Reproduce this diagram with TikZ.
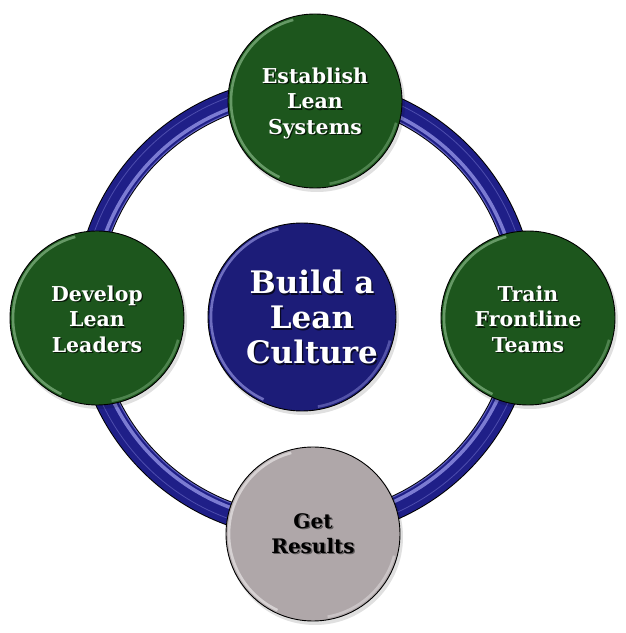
\documentclass[tikz,border=0pt]{standalone}
\usepackage{fontspec}
\setmainfont{DejaVu Serif}
\usetikzlibrary{calc}
\definecolor{btngreen}{HTML}{1D561D}
\definecolor{rimgreen}{HTML}{7FB07F}
\definecolor{btnnavy}{HTML}{1C1C78}
\definecolor{rimnavy}{HTML}{8A8AD8}
\definecolor{btngray}{HTML}{AFA7A9}
\definecolor{rimgray}{HTML}{E4E0E1}
\definecolor{ringblue}{HTML}{1F1F88}
\definecolor{ringlight}{HTML}{7B7BD2}
\newcommand\shtxt[2]{\makebox[0pt][l]{\raisebox{-1.5pt}{\hspace{1.3pt}\textcolor{#1}{#2}}}#2}
\begin{document}
\begin{tikzpicture}[x=1pt,y=1pt,
  btn/.style={circle, draw=black, line width=0.9pt, inner sep=0pt, minimum size=174pt},
  gbtn/.style={btn, fill=btngreen},
  glbl/.style={align=center, font=\bfseries\fontsize{20.5}{25.5}\selectfont, text=white},
  clbl/.style={align=center, font=\bfseries\fontsize{31}{35}\selectfont, text=white},
  rlbl/.style={align=center, font=\bfseries\fontsize{20}{25}\selectfont, text=black},
  rim/.style={line width=2.6pt, opacity=0.75},
  dropshadow/.style={black, opacity=0.12},
]
\useasboundingbox (0,0) rectangle (626,633);
% ring
\coordinate (rc) at (305,325);
\draw[black, line width=24pt] (rc) circle (219);
\draw[ringblue, line width=22pt] (rc) circle (219);
\draw[ringlight, line width=3.5pt] (rc) circle (213);
\draw[ringlight, line width=1pt, opacity=0.7] (rc) circle (208.5);
\draw[ringlight, line width=0.8pt, opacity=0.5] (rc) circle (224);

% buttons
\coordinate (estc) at (315,532);
\coordinate (devc) at (97,315);
\coordinate (trnc) at (528,315);
\coordinate (resc) at (313,99);
\coordinate (culc) at (302,316);
\foreach \c/\r in {estc/88, devc/88, trnc/88, resc/88, culc/95}
  \fill[dropshadow] ($(\c)+(2,-3)$) circle (\r);

\node[gbtn] (est) at (estc) {};
\node[gbtn] (dev) at (devc) {};
\node[gbtn] (trn) at (trnc) {};
\node[btn, fill=btngray] (res) at (resc) {};
\node[btn, fill=btnnavy, minimum size=188pt] (cul) at (culc) {};

% bevel highlights
\foreach \n/\col/\r in {est/rimgreen/84, dev/rimgreen/84, trn/rimgreen/84, res/rimgray/84, cul/rimnavy/91}{
  \draw[rim, \col] (\n.center) ++(105:\r) arc[start angle=105, end angle=245, radius=\r];
  \draw[rim, \col, opacity=0.5] (\n.center) ++(280:\r) arc[start angle=280, end angle=345, radius=\r];
}

% labels
\node[glbl] (estT) at ($(est.center)+(0,-3)$) {\shtxt{black!70!btngreen}{Establish}\\\shtxt{black!70!btngreen}{Lean}\\\shtxt{black!70!btngreen}{Systems}};
\node[glbl] (devT) at ($(dev.center)+(0,-2)$) {\shtxt{black!70!btngreen}{Develop}\\\shtxt{black!70!btngreen}{Lean}\\\shtxt{black!70!btngreen}{Leaders}};
\node[glbl] (trnT) at ($(trn.center)+(0,-2)$) {\shtxt{black!70!btngreen}{Train}\\\shtxt{black!70!btngreen}{Frontline}\\\shtxt{black!70!btngreen}{Teams}};
\node[clbl] (culT) at ($(cul.center)+(10,-1)$) {\shtxt{black!70!btnnavy}{Build a}\\\shtxt{black!70!btnnavy}{Lean}\\\shtxt{black!70!btnnavy}{Culture}};
\node[rlbl] (resT) at (res.center) {\shtxt{black!45!btngray}{Get}\\\shtxt{black!45!btngray}{Results}};
\end{tikzpicture}
\end{document}
